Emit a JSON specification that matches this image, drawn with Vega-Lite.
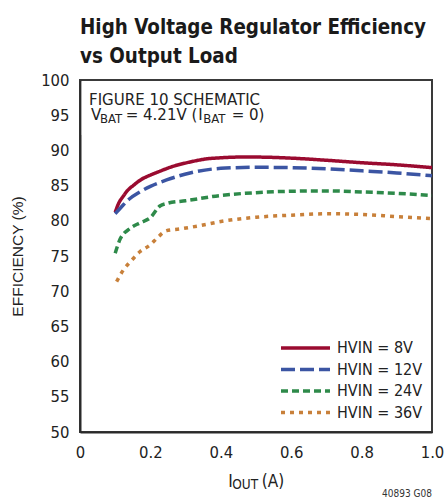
{
  "$schema": "https://vega.github.io/schema/vega-lite/v6.json",
  "width": 352,
  "height": 352,
  "autosize": {"type": "none"},
  "padding": {"left": 80, "top": 80, "right": 14, "bottom": 66},
  "background": "white",
  "title": {
    "text": ["High Voltage Regulator Efficiency", "vs Output Load"],
    "anchor": "start",
    "frame": "group",
    "font": "DejaVu Sans Condensed, DejaVu Sans, sans-serif",
    "fontSize": 20.4,
    "fontWeight": "bold",
    "color": "#1a1a1a",
    "lineHeight": 28.5,
    "baseline": "bottom",
    "offset": 13,
    "dy": 28
  },
  "config": {
    "view": {"stroke": "#3a3a3a", "strokeWidth": 2},
    "font": "DejaVu Sans Condensed, DejaVu Sans, sans-serif",
    "axis": {
      "domainColor": "#2a2a2a",
      "domainWidth": 2,
      "gridColor": "#777777",
      "gridWidth": 1.5,
      "ticks": false,
      "tickSize": 0,
      "labelFont": "DejaVu Sans Condensed, DejaVu Sans, sans-serif",
      "labelFontSize": 16.5,
      "labelColor": "#222222",
      "titleFont": "Liberation Sans, Arial, sans-serif",
      "titleFontWeight": "normal",
      "titleColor": "#222222"
    }
  },
  "data": {
    "values": [
      {"I": 0.1, "E": 81.2, "s": "HVIN = 8V"},
      {"I": 0.11, "E": 82.5, "s": "HVIN = 8V"},
      {"I": 0.123, "E": 83.5, "s": "HVIN = 8V"},
      {"I": 0.135, "E": 84.3, "s": "HVIN = 8V"},
      {"I": 0.151, "E": 85.0, "s": "HVIN = 8V"},
      {"I": 0.175, "E": 85.9, "s": "HVIN = 8V"},
      {"I": 0.2, "E": 86.5, "s": "HVIN = 8V"},
      {"I": 0.23, "E": 87.1, "s": "HVIN = 8V"},
      {"I": 0.256, "E": 87.6, "s": "HVIN = 8V"},
      {"I": 0.3125, "E": 88.35, "s": "HVIN = 8V"},
      {"I": 0.36, "E": 88.8, "s": "HVIN = 8V"},
      {"I": 0.4, "E": 88.95, "s": "HVIN = 8V"},
      {"I": 0.45, "E": 89.05, "s": "HVIN = 8V"},
      {"I": 0.5, "E": 89.05, "s": "HVIN = 8V"},
      {"I": 0.6, "E": 88.9, "s": "HVIN = 8V"},
      {"I": 0.7, "E": 88.6, "s": "HVIN = 8V"},
      {"I": 0.8, "E": 88.25, "s": "HVIN = 8V"},
      {"I": 0.9, "E": 87.95, "s": "HVIN = 8V"},
      {"I": 1.0, "E": 87.55, "s": "HVIN = 8V"},
      {"I": 0.1, "E": 81.0, "s": "HVIN = 12V"},
      {"I": 0.12, "E": 82.1, "s": "HVIN = 12V"},
      {"I": 0.14, "E": 83.1, "s": "HVIN = 12V"},
      {"I": 0.17, "E": 84.1, "s": "HVIN = 12V"},
      {"I": 0.2, "E": 84.9, "s": "HVIN = 12V"},
      {"I": 0.246, "E": 85.8, "s": "HVIN = 12V"},
      {"I": 0.3125, "E": 86.8, "s": "HVIN = 12V"},
      {"I": 0.4, "E": 87.45, "s": "HVIN = 12V"},
      {"I": 0.5, "E": 87.6, "s": "HVIN = 12V"},
      {"I": 0.6, "E": 87.55, "s": "HVIN = 12V"},
      {"I": 0.7, "E": 87.4, "s": "HVIN = 12V"},
      {"I": 0.8, "E": 87.1, "s": "HVIN = 12V"},
      {"I": 0.9, "E": 86.8, "s": "HVIN = 12V"},
      {"I": 1.0, "E": 86.4, "s": "HVIN = 12V"},
      {"I": 0.1, "E": 75.4, "s": "HVIN = 24V"},
      {"I": 0.114, "E": 77.4, "s": "HVIN = 24V"},
      {"I": 0.142, "E": 78.9, "s": "HVIN = 24V"},
      {"I": 0.17, "E": 79.7, "s": "HVIN = 24V"},
      {"I": 0.2, "E": 80.45, "s": "HVIN = 24V"},
      {"I": 0.227, "E": 82.1, "s": "HVIN = 24V"},
      {"I": 0.25, "E": 82.5, "s": "HVIN = 24V"},
      {"I": 0.3, "E": 82.85, "s": "HVIN = 24V"},
      {"I": 0.4, "E": 83.6, "s": "HVIN = 24V"},
      {"I": 0.5, "E": 84.0, "s": "HVIN = 24V"},
      {"I": 0.6, "E": 84.2, "s": "HVIN = 24V"},
      {"I": 0.7, "E": 84.25, "s": "HVIN = 24V"},
      {"I": 0.8, "E": 84.1, "s": "HVIN = 24V"},
      {"I": 0.9, "E": 83.9, "s": "HVIN = 24V"},
      {"I": 1.0, "E": 83.6, "s": "HVIN = 24V"},
      {"I": 0.104, "E": 71.35, "s": "HVIN = 36V"},
      {"I": 0.123, "E": 73.0, "s": "HVIN = 36V"},
      {"I": 0.147, "E": 74.4, "s": "HVIN = 36V"},
      {"I": 0.17, "E": 75.6, "s": "HVIN = 36V"},
      {"I": 0.2, "E": 76.6, "s": "HVIN = 36V"},
      {"I": 0.222, "E": 77.7, "s": "HVIN = 36V"},
      {"I": 0.246, "E": 78.6, "s": "HVIN = 36V"},
      {"I": 0.284, "E": 78.85, "s": "HVIN = 36V"},
      {"I": 0.34, "E": 79.3, "s": "HVIN = 36V"},
      {"I": 0.4, "E": 79.9, "s": "HVIN = 36V"},
      {"I": 0.5, "E": 80.5, "s": "HVIN = 36V"},
      {"I": 0.6, "E": 80.8, "s": "HVIN = 36V"},
      {"I": 0.7, "E": 81.0, "s": "HVIN = 36V"},
      {"I": 0.8, "E": 80.9, "s": "HVIN = 36V"},
      {"I": 0.9, "E": 80.6, "s": "HVIN = 36V"},
      {"I": 1.0, "E": 80.3, "s": "HVIN = 36V"}
    ]
  },
  "encoding": {
    "x": {
      "type": "quantitative",
      "scale": {"domain": [0, 1], "nice": false, "zero": false},
      "axis": {
        "values": [0, 0.2, 0.4, 0.6, 0.8, 1.0],
        "labelExpr": "datum.value == 0 ? '0' : format(datum.value, '.1f')",
        "labelPadding": 12,
        "labelFlush": false,
        "title": null
      }
    },
    "y": {
      "type": "quantitative",
      "scale": {"domain": [50, 100], "nice": false, "zero": false},
      "axis": {
        "values": [50, 55, 60, 65, 70, 75, 80, 85, 90, 95, 100],
        "labelPadding": 11,
        "title": "EFFICIENCY (%)",
        "titleFontSize": 15.5,
        "titlePadding": 15
      }
    }
  },
  "layer": [
    {
      "data": {"values": [{}]},
      "mark": {"type": "rect", "fill": "white"},
      "encoding": {
        "x": {"datum": 0.005},
        "x2": {"datum": 0.537},
        "y": {"datum": 99.8},
        "y2": {"datum": 92.2}
      }
    },
    {
      "mark": {"type": "line", "strokeWidth": 3.5, "interpolate": "monotone", "strokeCap": "butt"},
      "encoding": {
        "x": {"field": "I", "type": "quantitative"},
        "y": {"field": "E", "type": "quantitative"},
        "color": {
          "field": "s",
          "type": "nominal",
          "scale": {
            "domain": ["HVIN = 8V", "HVIN = 12V", "HVIN = 24V", "HVIN = 36V"],
            "range": ["#9a0b30", "#3b55a3", "#2e8a4a", "#c8803a"]
          },
          "legend": {
            "orient": "none",
            "legendX": 193,
            "legendY": 255,
            "fillColor": "white",
            "title": null,
            "symbolType": "M-1,0H8.8",
            "symbolSize": 100,
            "symbolStrokeWidth": 3.5,
            "labelFontSize": 16,
            "labelColor": "#222222",
            "labelFont": "DejaVu Sans Condensed, DejaVu Sans, sans-serif",
            "labelOffset": 43,
            "padding": 5,
            "rowPadding": 5.5
          }
        },
        "strokeDash": {
          "field": "s",
          "type": "nominal",
          "scale": {
            "domain": ["HVIN = 8V", "HVIN = 12V", "HVIN = 24V", "HVIN = 36V"],
            "range": [[1, 0], [14, 5], [7, 4], [4, 5]]
          }
        }
      }
    },
    {
      "data": {"values": [{}]},
      "mark": {"type": "text", "text": "FIGURE 10 SCHEMATIC", "align": "left", "baseline": "alphabetic", "fontSize": 16.7, "color": "#222222"},
      "encoding": {"x": {"datum": 0.0256}, "y": {"datum": 96.45}}
    },
    {
      "data": {"values": [{}]},
      "mark": {"type": "text", "text": "V", "align": "left", "baseline": "alphabetic", "fontSize": 16.7, "color": "#222222"},
      "encoding": {"x": {"datum": 0.0313}, "y": {"datum": 94.32}}
    },
    {
      "data": {"values": [{}]},
      "mark": {"type": "text", "text": "BAT", "align": "left", "baseline": "alphabetic", "fontSize": 13, "color": "#222222"},
      "encoding": {"x": {"datum": 0.0568}, "y": {"datum": 93.85}}
    },
    {
      "data": {"values": [{}]},
      "mark": {"type": "text", "text": "= 4.21V (", "align": "left", "baseline": "alphabetic", "fontSize": 16.7, "color": "#222222"},
      "encoding": {"x": {"datum": 0.1298}, "y": {"datum": 94.32}}
    },
    {
      "data": {"values": [{}]},
      "mark": {"type": "text", "text": "I", "align": "left", "baseline": "alphabetic", "fontSize": 16.7, "color": "#222222"},
      "encoding": {"x": {"datum": 0.336}, "y": {"datum": 94.32}}
    },
    {
      "data": {"values": [{}]},
      "mark": {"type": "text", "text": "BAT", "align": "left", "baseline": "alphabetic", "fontSize": 13, "color": "#222222"},
      "encoding": {"x": {"datum": 0.3503}, "y": {"datum": 93.85}}
    },
    {
      "data": {"values": [{}]},
      "mark": {"type": "text", "text": "= 0)", "align": "left", "baseline": "alphabetic", "fontSize": 16.7, "color": "#222222"},
      "encoding": {"x": {"datum": 0.431}, "y": {"datum": 94.32}}
    },
    {
      "data": {"values": [{}]},
      "mark": {"type": "text", "text": "I", "align": "left", "baseline": "alphabetic", "fontSize": 17, "color": "#222222"},
      "encoding": {"x": {"datum": 0.4214}, "y": {"datum": 42.23}}
    },
    {
      "data": {"values": [{}]},
      "mark": {"type": "text", "text": "OUT", "align": "left", "baseline": "alphabetic", "fontSize": 13.5, "color": "#222222"},
      "encoding": {"x": {"datum": 0.4327}, "y": {"datum": 41.86}}
    },
    {
      "data": {"values": [{}]},
      "mark": {"type": "text", "text": "(A)", "align": "left", "baseline": "alphabetic", "fontSize": 17, "color": "#222222"},
      "encoding": {"x": {"datum": 0.5162}, "y": {"datum": 42.23}}
    },
    {
      "data": {"values": [{}]},
      "mark": {"type": "text", "text": "40893 G08", "align": "right", "baseline": "alphabetic", "fontSize": 10, "color": "#333333"},
      "encoding": {"x": {"datum": 1.0}, "y": {"datum": 40.75}}
    }
  ]
}
